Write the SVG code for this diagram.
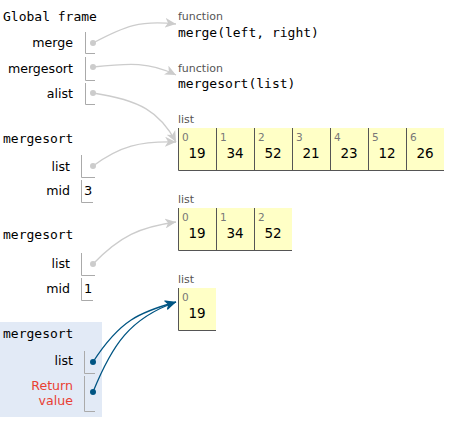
<svg xmlns="http://www.w3.org/2000/svg" width="453" height="424" viewBox="0 0 453 424">
<style>
.title{font-family:"DejaVu Sans Mono",monospace;font-size:13px;fill:#000}
.name{font-family:"DejaVu Sans",Verdana,sans-serif;font-size:12.6px;fill:#000;text-anchor:end}
.ret{fill:#e93f34}
.fn{font-family:"DejaVu Sans Mono",monospace;font-size:13px;fill:#000}
.lbl{font-family:"DejaVu Sans",Verdana,sans-serif;font-size:11px;fill:#555}
.idx{font-family:"DejaVu Sans",Verdana,sans-serif;font-size:10.5px;fill:#777}
.val{font-family:"DejaVu Sans",Verdana,sans-serif;font-size:13.5px;fill:#000;text-anchor:middle}
.prim{font-family:"DejaVu Sans",Verdana,sans-serif;font-size:13px;fill:#000}
.br{fill:none;stroke:#aaa;stroke-width:1}
.cell{fill:#ffffc6}
.cb{fill:none;stroke:#555;stroke-width:1}
.lc{fill:none;stroke:#ccc;stroke-width:1.3}
.dc{fill:none;stroke:#005583;stroke-width:1.3}
</style>
<defs>
<marker id="al" markerUnits="userSpaceOnUse" markerWidth="12" markerHeight="10" refX="11" refY="5" orient="auto"><path d="M0,0 L11,5 L0,10 L3,5 z" fill="#ccc"/></marker>
<marker id="ad" markerUnits="userSpaceOnUse" markerWidth="12" markerHeight="10" refX="11" refY="5" orient="auto"><path d="M0,0 L11,5 L0,10 L3,5 z" fill="#005583"/></marker>
</defs>

<g id="global-frame">
<text class="title" x="3" y="21">Global frame</text>
<text class="name" x="73" y="47">merge</text>
<path class="br" d="M85.5,32 V53.5 H95"/>
<circle cx="93" cy="43" r="3" fill="#ccc"/>
<text class="name" x="73" y="73">mergesort</text>
<path class="br" d="M85.5,57 V80.5 H95"/>
<circle cx="93" cy="67" r="3" fill="#ccc"/>
<text class="name" x="73" y="98">alist</text>
<path class="br" d="M85.5,83 V104.5 H95"/>
<circle cx="93" cy="93" r="3" fill="#ccc"/>
</g>

<g id="frame-mergesort-1">
<text class="title" x="3" y="143">mergesort</text>
<text class="name" x="70" y="171">list</text>
<path class="br" d="M81.5,155 V177.5 H95"/>
<circle cx="93" cy="166" r="3" fill="#ccc"/>
<text class="name" x="70" y="195">mid</text>
<path class="br" d="M81.5,180 V202.5 H93"/>
<text class="prim" x="84" y="195">3</text>
</g>

<g id="frame-mergesort-2">
<text class="title" x="3" y="239">mergesort</text>
<text class="name" x="70" y="268">list</text>
<path class="br" d="M81.5,253 V275.5 H95"/>
<circle cx="93" cy="264" r="3" fill="#ccc"/>
<text class="name" x="70" y="293">mid</text>
<path class="br" d="M81.5,278 V300.5 H93"/>
<text class="prim" x="84" y="293">1</text>
</g>

<g id="frame-mergesort-3">
<rect x="0" y="322" width="102" height="95" fill="#e2eaf6"/>
<text class="title" x="3" y="338">mergesort</text>
<text class="name" x="73" y="365">list</text>
<path class="br" d="M84.5,351 V373.5 H95"/>
<circle cx="93" cy="362" r="3" fill="#005583"/>
<text class="name ret" x="73" y="390">Return</text>
<text class="name ret" x="73" y="405">value</text>
<path class="br" d="M84.5,376 V411.5 H95"/>
<circle cx="93" cy="392" r="3" fill="#005583"/>
</g>

<g id="func-merge">
<text class="lbl" x="178" y="20">function</text>
<text class="fn" x="178" y="37">merge(left, right)</text>
</g>

<g id="func-mergesort">
<text class="lbl" x="178" y="72">function</text>
<text class="fn" x="178" y="88">mergesort(list)</text>
</g>

<g id="list-7">
<text class="lbl" x="178" y="123">list</text>
<rect class="cell" x="178" y="128" width="266" height="42"/>
<path class="cb" d="M178.5,128 V170.5 H444 M216.5,128 V170 M254.5,128 V170 M292.5,128 V170 M330.5,128 V170 M368.5,128 V170 M406.5,128 V170"/>
<text class="idx" x="182" y="141">0</text><text class="val" x="197" y="158">19</text>
<text class="idx" x="220" y="141">1</text><text class="val" x="235" y="158">34</text>
<text class="idx" x="258" y="141">2</text><text class="val" x="273" y="158">52</text>
<text class="idx" x="296" y="141">3</text><text class="val" x="311" y="158">21</text>
<text class="idx" x="334" y="141">4</text><text class="val" x="349" y="158">23</text>
<text class="idx" x="372" y="141">5</text><text class="val" x="387" y="158">12</text>
<text class="idx" x="410" y="141">6</text><text class="val" x="425" y="158">26</text>
</g>

<g id="list-3">
<text class="lbl" x="178" y="203">list</text>
<rect class="cell" x="178" y="208" width="114" height="42"/>
<path class="cb" d="M178.5,208 V250.5 H292 M216.5,208 V250 M254.5,208 V250"/>
<text class="idx" x="182" y="221">0</text><text class="val" x="197" y="238">19</text>
<text class="idx" x="220" y="221">1</text><text class="val" x="235" y="238">34</text>
<text class="idx" x="258" y="221">2</text><text class="val" x="273" y="238">52</text>
</g>

<g id="list-1">
<text class="lbl" x="178" y="283">list</text>
<rect class="cell" x="178" y="288" width="38" height="42"/>
<path class="cb" d="M178.5,288 V330.5 H216"/>
<text class="idx" x="182" y="301">0</text><text class="val" x="197" y="318">19</text>
</g>

<g id="connectors">
<path class="lc" marker-end="url(#al)" d="M93,43 C125,26 140,20 176,24"/>
<path class="lc" marker-end="url(#al)" d="M93,67 C130,63 150,62 176,75"/>
<path class="lc" marker-end="url(#al)" d="M93,93 C140,100 160,112 176,142"/>
<path class="lc" marker-end="url(#al)" d="M93,166 C120,146 140,141 176,142"/>
<path class="lc" marker-end="url(#al)" d="M93,264 C120,236 140,227 176,222"/>
<path class="dc" marker-end="url(#ad)" d="M93,362 C120,320 140,312 176,302"/>
<path class="dc" marker-end="url(#ad)" d="M93,392 C112,345 130,318 176,302"/>
</g>
</svg>
